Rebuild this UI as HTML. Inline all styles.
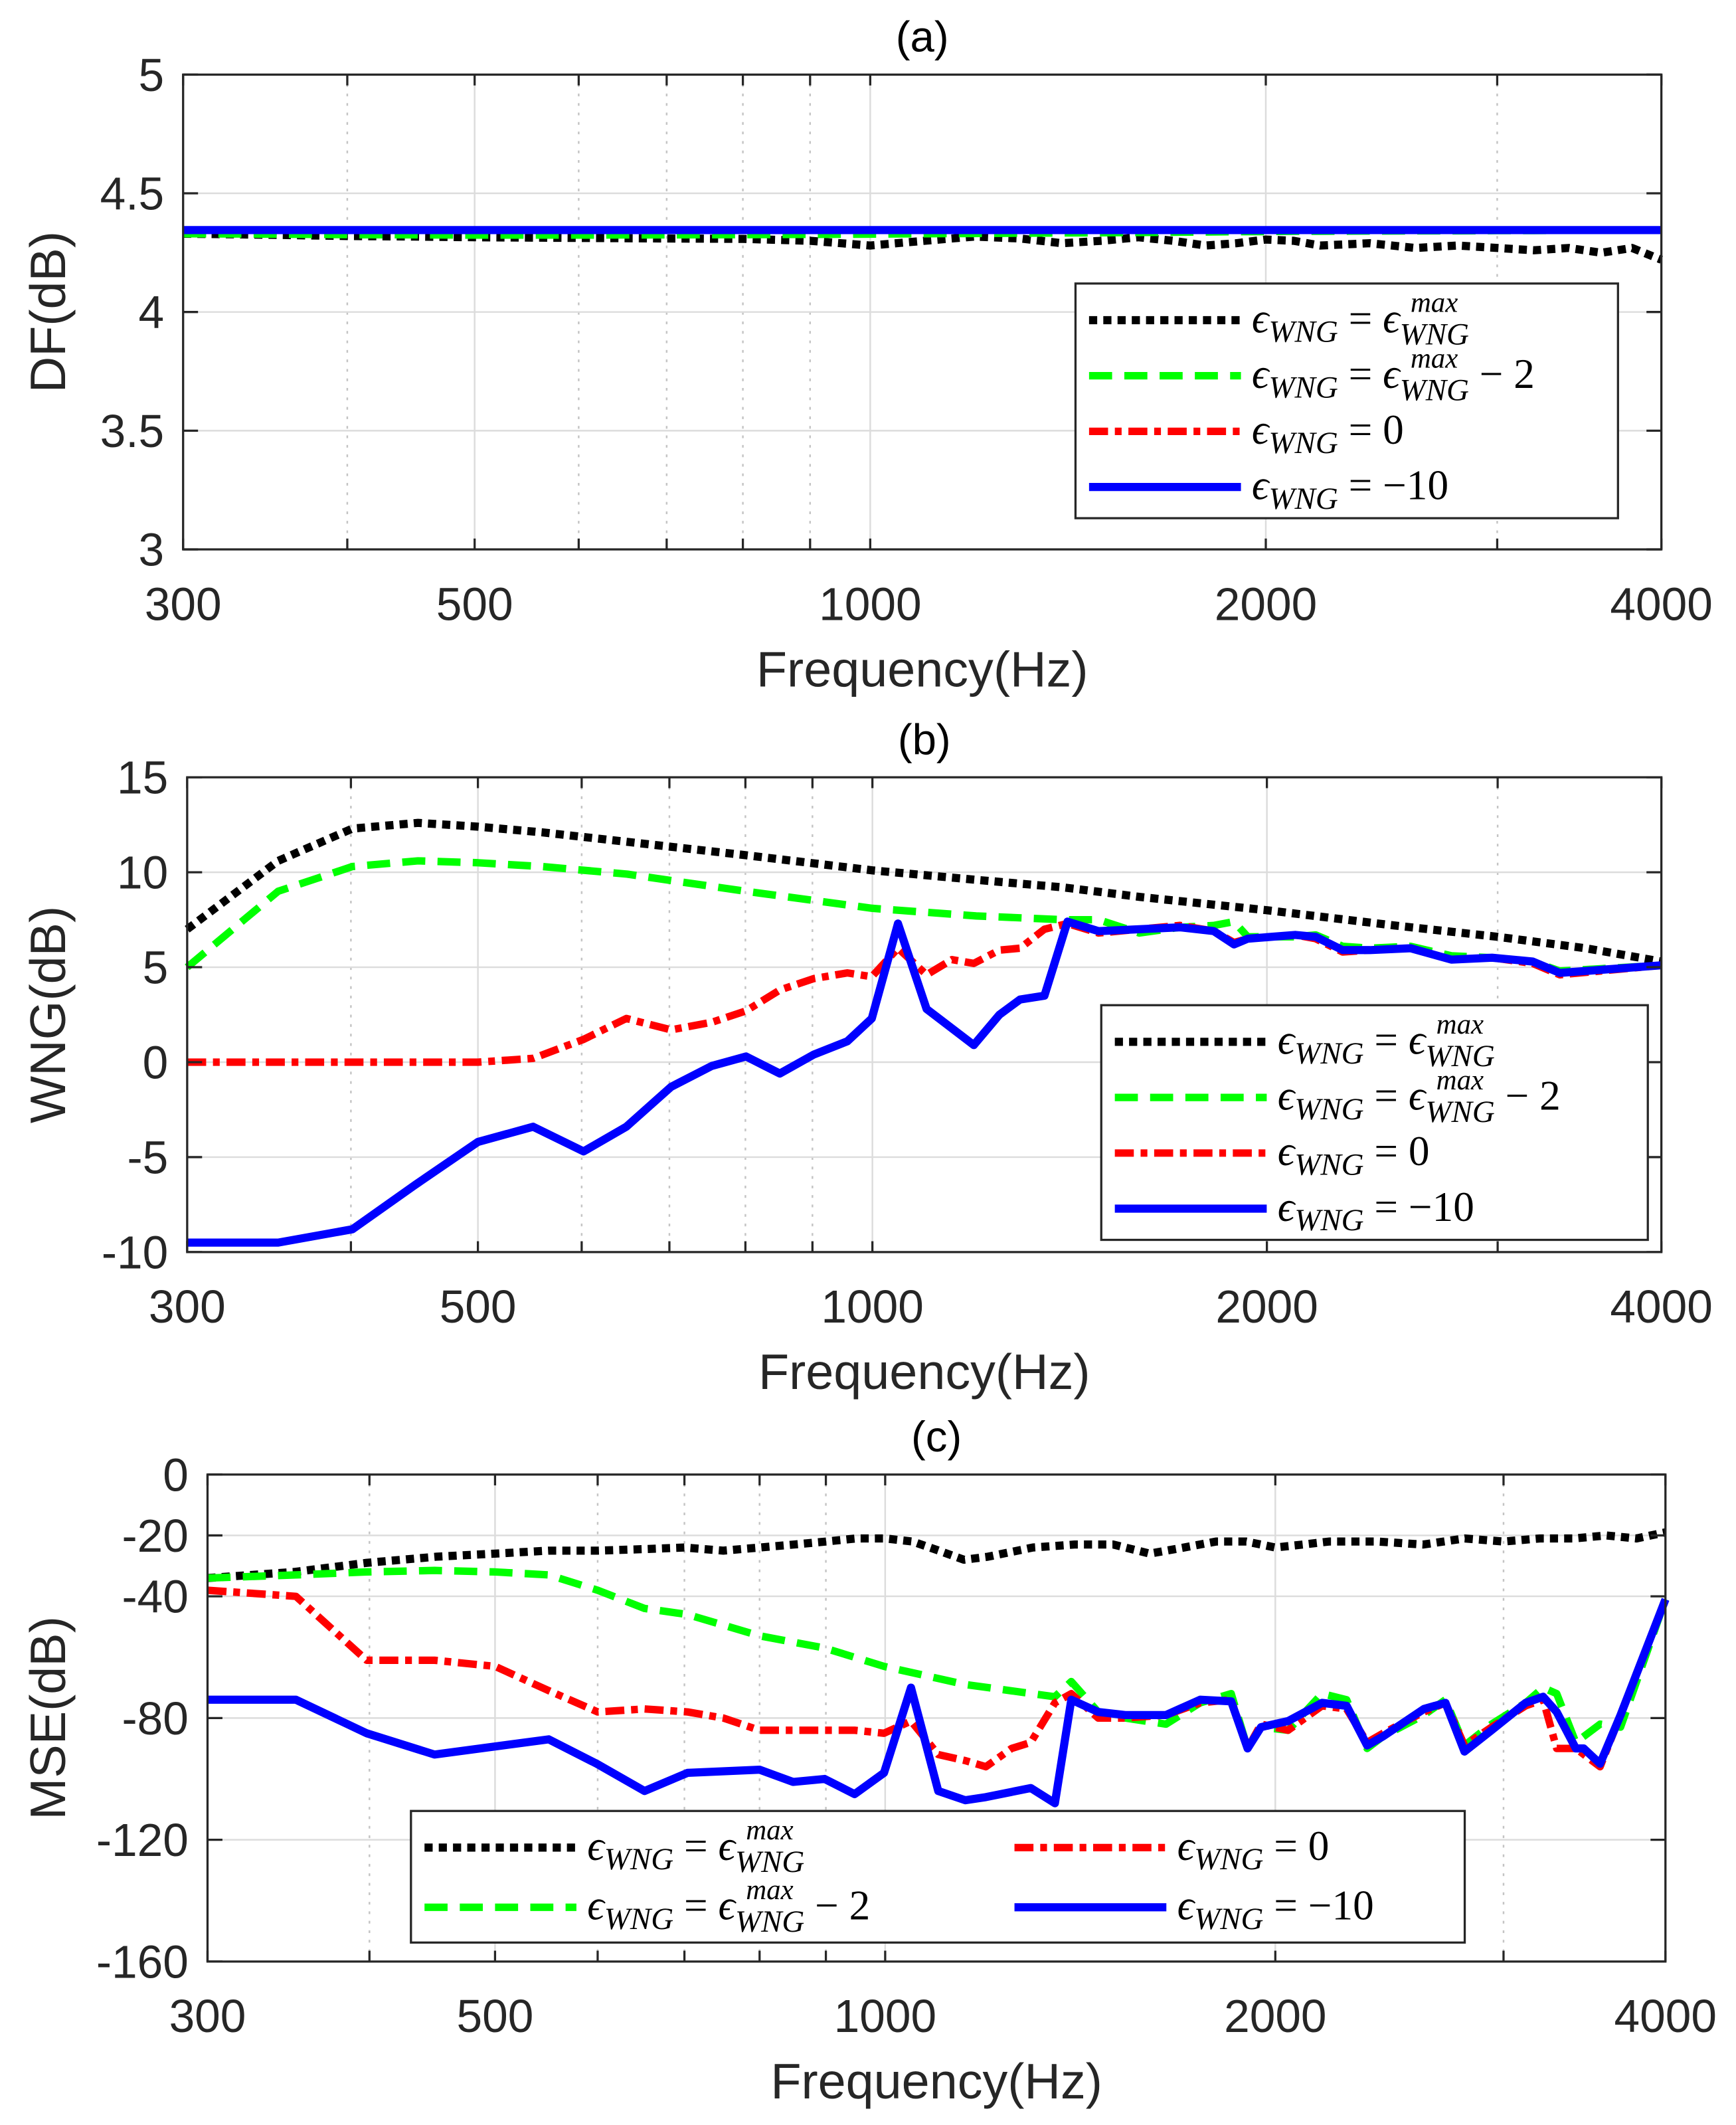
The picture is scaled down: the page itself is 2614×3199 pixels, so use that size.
<!DOCTYPE html>
<html><head><meta charset="utf-8"><style>html,body{margin:0;padding:0;background:#fff}svg{display:block}</style></head>
<body>
<svg id="fig" xmlns="http://www.w3.org/2000/svg" width="2614" height="3199" viewBox="0 0 1280 1566.5" font-family="Liberation Sans, sans-serif"></svg>
<script>
// ---- data ----
const dfFreq = [300,350,400,450,500,600,700,800,900,1000,1100,1200,1300,1400,1500,1600,1700,1800,1900,2000,2100,2200,2400,2600,2800,3000,3200,3400,3600,3800,4000];
const dfMax = [4.33,4.325,4.32,4.318,4.315,4.312,4.31,4.308,4.3,4.28,4.3,4.318,4.31,4.29,4.3,4.315,4.3,4.28,4.29,4.305,4.3,4.28,4.29,4.27,4.28,4.27,4.26,4.27,4.25,4.27,4.22];
const dfMax2 = [4.33,4.328,4.326,4.325,4.324,4.324,4.325,4.326,4.327,4.328,4.33,4.331,4.332,4.333,4.334,4.335,4.336,4.337,4.338,4.339,4.34,4.34,4.341,4.342,4.342,4.343,4.343,4.344,4.344,4.345,4.345];
const dfZero = [4.345,4.345,4.345,4.345,4.345,4.345,4.345,4.345,4.345,4.345,4.345,4.345,4.345,4.345,4.345,4.345,4.345,4.345,4.345,4.345,4.345,4.345,4.345,4.345,4.345,4.345,4.345,4.345,4.345,4.345,4.345];
const dfM10 = [4.345,4.345,4.345,4.345,4.345,4.345,4.345,4.345,4.345,4.345,4.345,4.345,4.345,4.345,4.345,4.345,4.345,4.345,4.345,4.345,4.345,4.345,4.345,4.345,4.345,4.345,4.345,4.345,4.345,4.345,4.345];

const wngFreqBlack = [300,352,401,450,500,560,650,800,1000,1200,1400,1600,2000,2500,3000,3500,4000];
const wngBlack = [7,10.6,12.3,12.6,12.4,12.1,11.6,10.9,10.1,9.6,9.2,8.7,8.0,7.2,6.6,6.0,5.3];
const wngFreqGreen = [300,352,401,450,500,560,650,800,1000,1200,1400,1488,1598,1717,1822,1888,1934,2102,2179,2285,2397,2574,2766,2970,3190,3346,4000];
const wngGreen = [5,9,10.3,10.6,10.5,10.3,9.9,9.0,8.1,7.7,7.5,7.5,6.8,7.1,7.2,7.4,6.6,6.6,6.7,6.1,6.0,6.1,5.6,5.5,5.3,4.8,5.1];
const wngFreqRed = [300,500,551,602,649,702,754,801,850,902,957,999,1046,1100,1150,1195,1250,1296,1353,1409,1488,1598,1717,1822,1888,1934,2102,2179,2285,2397,2574,2766,2970,3190,3346,4000];
const wngRed = [0,0,0.2,1.2,2.3,1.7,2.1,2.7,3.8,4.4,4.7,4.5,6.0,4.6,5.4,5.2,5.9,6.0,7.0,7.3,6.8,7.0,7.2,6.9,6.3,6.5,6.7,6.5,5.8,5.9,6.0,5.4,5.5,5.2,4.6,5.1];
const wngFreqBlue = [300,352,401,447,500,551,602,649,702,754,801,850,902,957,999,1046,1100,1195,1250,1296,1353,1409,1488,1598,1717,1822,1888,1934,2102,2179,2285,2397,2574,2766,2970,3190,3346,4000];
const wngBlue = [-9.5,-9.5,-8.8,-6.5,-4.2,-3.4,-4.7,-3.4,-1.3,-0.2,0.3,-0.6,0.4,1.1,2.3,7.3,2.8,0.9,2.5,3.3,3.5,7.4,6.9,7.0,7.1,6.9,6.2,6.5,6.7,6.6,5.9,5.9,6.0,5.4,5.5,5.3,4.7,5.1];

const mseFreqBlack = [300,350,398,450,500,550,600,650,700,750,800,850,900,950,1000,1050,1100,1150,1200,1300,1400,1500,1600,1700,1800,1900,2000,2100,2200,2400,2600,2800,3000,3200,3400,3600,3800,4000];
const mseBlack = [-34,-32,-29,-27,-26,-25,-25,-24.5,-24,-25,-24,-23,-22,-21,-21,-22,-25,-28,-27,-24,-23,-23,-26,-24,-22,-22,-24,-23,-22,-22,-23,-21,-22,-21,-21,-20,-21,-19];
const mseFreqGreen = [300,351,398,449,500,550,600,652,704,800,898,998,1153,1352,1392,1460,1532,1647,1750,1849,1904,1950,2046,2173,2270,2354,2422,2604,2706,2799,2937,3120,3219,3297,3411,3561,3693,4000];
const mseGreen = [-34,-33,-32,-31.5,-32,-33,-38,-44,-46,-53,-57,-63,-69,-73,-68,-78,-80,-82,-75,-72,-90,-83,-84,-72,-74,-90,-86,-79,-74,-89,-82,-75,-70,-72,-88,-82,-83,-41];
const mseFreqRed = [300,351,398,449,500,550,600,652,704,750,800,850,898,947,998,1047,1099,1153,1196,1252,1295,1352,1392,1460,1532,1647,1750,1849,1904,1950,2046,2173,2270,2354,2422,2604,2706,2799,2937,3120,3219,3297,3411,3561,3693,4000];
const mseRed = [-38,-40,-61,-61,-63,-71,-78,-77,-78,-80,-84,-84,-84,-84,-85,-81,-92,-94,-96,-90,-88,-75,-72,-80,-80,-79,-75,-74,-90,-82,-84,-76,-77,-88,-85,-78,-75,-89,-83,-76,-74,-90,-90,-96,-79,-41];
const mseFreqBlue = [300,351,398,449,550,599,652,704,800,849,898,947,998,1047,1099,1153,1196,1295,1352,1392,1460,1532,1647,1750,1849,1904,1950,2046,2173,2270,2354,2422,2604,2706,2799,2937,3120,3219,3297,3411,3459,3561,3693,4000];
const mseBlue = [-74,-74,-85,-92,-87,-95,-104,-98,-97,-101,-100,-105,-98,-70,-104,-107,-106,-103,-108,-74,-78,-79,-79,-74,-74.5,-90,-83,-81,-75,-76,-89,-86,-77,-75,-91,-84,-75,-73,-78,-90,-90,-95,-79,-41];

const xTicks = [300,500,1000,2000,4000];
const xMinor = [400,600,700,800,900,3000];
// ---- drawing ----
const NS = 'http://www.w3.org/2000/svg';
const svg = document.getElementById('fig');
function el(tag, attrs, parent, text){const e=document.createElementNS(NS,tag);for(const k in attrs)e.setAttribute(k,attrs[k]);if(text!==undefined)e.textContent=text;(parent||svg).appendChild(e);return e;}
const styles = {
  black:{stroke:'#000','stroke-width':6,'stroke-dasharray':'6 4.5'},
  green:{stroke:'#00ff00','stroke-width':5.5,'stroke-dasharray':'17 9'},
  red:{stroke:'#ff0000','stroke-width':5.5,'stroke-dasharray':'14 5 5 5'},
  blue:{stroke:'#0000ff','stroke-width':6}
};
function panel(p){
  const g = el('g',{});
  
  
  const X = f => p.x0 + (Math.log(f/300)/Math.log(4000/300))*(p.x1-p.x0);
  const Y = v => p.y1 - (v-p.ymin)/(p.ymax-p.ymin)*(p.y1-p.y0);
  xTicks.slice(1,-1).forEach(f=>{el('line',{x1:X(f),x2:X(f),y1:p.y0,y2:p.y1,stroke:'#dcdcdc','stroke-width':1.2},g);});
  xMinor.forEach(f=>{el('line',{x1:X(f),x2:X(f),y1:p.y0,y2:p.y1,stroke:'#c4c4c4','stroke-width':1.2,'stroke-dasharray':'2 5'},g);});
  p.yTicks.forEach(v=>{if(v!==p.ymin&&v!==p.ymax)el('line',{x1:p.x0,x2:p.x1,y1:Y(v),y2:Y(v),stroke:'#dcdcdc','stroke-width':1.2},g);});
  p.series.forEach(s=>{
    const d = s.f.map((f,i)=>(i?'L':'M')+X(f).toFixed(1)+','+Y(s.v[i]).toFixed(1)).join('');
    const path = el('path',Object.assign({d:d,fill:'none','stroke-linejoin':'round'},styles[s.c]),g);
    
    
  });
  el('rect',{x:p.x0,y:p.y0,width:p.x1-p.x0,height:p.y1-p.y0,fill:'none',stroke:'#262626','stroke-width':1.6},g);
  p.yTicks.forEach((v,i)=>{
    el('line',{x1:p.x0,x2:p.x0+11,y1:Y(v),y2:Y(v),stroke:'#262626','stroke-width':1.6},g);
    el('line',{x1:p.x1,x2:p.x1-11,y1:Y(v),y2:Y(v),stroke:'#262626','stroke-width':1.6},g);
    const t=el('text',{x:p.x0-14,y:Y(v)+12,'text-anchor':'end','font-size':34,fill:'#262626'},g,p.yLabels[i]);
    
    
  });
  xTicks.concat(xMinor).forEach(f=>{
    el('line',{x1:X(f),x2:X(f),y1:p.y1,y2:p.y1-8,stroke:'#262626','stroke-width':1.6},g);
    el('line',{x1:X(f),x2:X(f),y1:p.y0,y2:p.y0+8,stroke:'#262626','stroke-width':1.6},g);
  });
  xTicks.forEach(f=>{
    const t=el('text',{x:X(f),y:p.y1+52,'text-anchor':'middle','font-size':34,fill:'#262626'},g,String(f));
    
    
  });
  const xl=el('text',{x:(p.x0+p.x1)/2,y:p.y1+101,'text-anchor':'middle','font-size':37,fill:'#262626'},g,'Frequency(Hz)');
   
  const yl=el('text',{x:0,y:0,'text-anchor':'middle','font-size':37,fill:'#262626',transform:`translate(${p.yl},${(p.y0+p.y1)/2}) rotate(-90)`},g,p.ylabel);
   
  const ti=el('text',{x:(p.x0+p.x1)/2,y:p.y0-17,'text-anchor':'middle','font-size':32,fill:'#000'},g,p.title);
   
  const L=p.legend;
  const lg=el('g',{},g);
   
  el('rect',{x:L.x,y:L.y,width:L.w,height:L.h,fill:'#fff',stroke:'#262626','stroke-width':1.6},lg);
  const entries=[['black','max',''],['green','max',' − 2'],['red','','0'],['blue','','−10']];
  entries.forEach((e,i)=>{
    const row = L.cols? (i%2) : i;
    const ex = L.cols? L.x+10+((i===0||i===1)?0:L.colw) : L.x+10;
    const cy = L.y+L.top+row*L.rowh;
    const ent=el('g',{},lg);
    
    
    el('line',Object.assign({x1:ex,x2:ex+112,y1:cy,y2:cy},styles[e[0]]),ent);
    const t=el('text',{x:ex+120,y:cy+9,'font-size':31,'font-family':'Liberation Serif, serif',fill:'#000'},ent);
    el('tspan',{'font-style':'italic'},t,'ϵ');
    el('tspan',{'font-style':'italic','font-size':23,dy:7},t,'WNG');
    el('tspan',{dy:-7},t,' = ');
    if(e[1]){
      el('tspan',{'font-style':'italic'},t,'ϵ');
      el('tspan',{'font-style':'italic','font-size':23,dy:9},t,'WNG');
      el('tspan',{dy:-9},t,e[2]);
      el('text',{x:ex+120+117,y:cy-6,'font-size':21,'font-style':'italic','font-family':'Liberation Serif, serif'},ent,'max');
    } else {
      el('tspan',{},t,e[2]);
    }
  });
}
panel({name:'panel-a-df',x0:135,x1:1225,y0:55,y1:405,ymin:3,ymax:5,yTicks:[3,3.5,4,4.5,5],yLabels:['3','3.5','4','4.5','5'],ylabel:'DF(dB)',yl:48,title:'(a)',
  legend:{x:793,y:209,w:400,h:173,top:27,rowh:41},
  series:[{n:'df-max',c:'black',f:dfFreq,v:dfMax},{n:'df-max-minus-2',c:'green',f:dfFreq,v:dfMax2},{n:'df-zero',c:'red',f:dfFreq,v:dfZero},{n:'df-minus-10',c:'blue',f:dfFreq,v:dfM10}]});
panel({name:'panel-b-wng',x0:138,x1:1225,y0:573,y1:923,ymin:-10,ymax:15,yTicks:[-10,-5,0,5,10,15],yLabels:['-10','-5','0','5','10','15'],ylabel:'WNG(dB)',yl:48,title:'(b)',
  legend:{x:812,y:741,w:403,h:173,top:27,rowh:41},
  series:[{n:'wng-max',c:'black',f:wngFreqBlack,v:wngBlack},{n:'wng-max-minus-2',c:'green',f:wngFreqGreen,v:wngGreen},{n:'wng-zero',c:'red',f:wngFreqRed,v:wngRed},{n:'wng-minus-10',c:'blue',f:wngFreqBlue,v:wngBlue}]});
panel({name:'panel-c-mse',x0:153,x1:1228,y0:1087,y1:1446,ymin:-160,ymax:0,yTicks:[-160,-120,-80,-40,-20,0],yLabels:['-160','-120','-80','-40','-20','0'],ylabel:'MSE(dB)',yl:48,title:'(c)',
  legend:{x:303,y:1335,w:777,h:97,top:27,rowh:44,cols:true,colw:435},
  series:[{n:'mse-max',c:'black',f:mseFreqBlack,v:mseBlack},{n:'mse-max-minus-2',c:'green',f:mseFreqGreen,v:mseGreen},{n:'mse-zero',c:'red',f:mseFreqRed,v:mseRed},{n:'mse-minus-10',c:'blue',f:mseFreqBlue,v:mseBlue}]});
</script>
</body></html>
